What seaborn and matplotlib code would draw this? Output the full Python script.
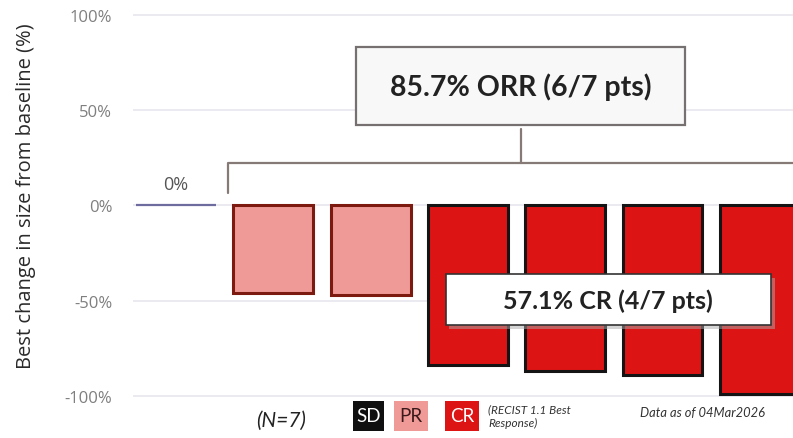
import numpy as np
import pandas as pd
import matplotlib
matplotlib.use('Agg')
import matplotlib.pyplot as plt
import seaborn as sns
from matplotlib.patches import Rectangle

patients = ["1", "2", "3", "4", "5", "6", "7"]
best_change = [0, -46, -47, -84, -87, -89, -99]
response = ["SD", "PR", "PR", "CR", "CR", "CR", "CR"]

fill_colors = {"SD": "#101010", "PR": "#f09a98", "CR": "#dc1414"}
edge_colors = {"SD": "#6e6c9e", "PR": "#7c1a10", "CR": "#141414"}
edge_widths = {"SD": 1.6, "PR": 2.2, "CR": 2.2}

yticks = [100, 50, 0, -50, -100]
ytick_labels = ["100%", "50%", "0%", "-50%", "-100%"]

orr_text = "85.7% ORR (6/7 pts)"
cr_text = "57.1% CR (4/7 pts)"
sd_label = "0%"
legend_items = ["SD", "PR", "CR"]

sns.set_theme(style="white")
plt.rcParams['font.family'] = ['Open Sans', 'DejaVu Sans']

df = pd.DataFrame({"patient": patients, "change": best_change, "resp": response})

fig = plt.figure(figsize=(7.93, 4.39), dpi=100)
ax = fig.add_axes([0.168, 0.0827, 0.832, 0.894])

sns.barplot(data=df, x="patient", y="change", hue="patient",
            palette=[fill_colors[r] for r in response], legend=False,
            width=0.82, saturation=1, ax=ax, zorder=3)

for patch, r in zip(ax.patches, response):
    patch.set_edgecolor(edge_colors[r])
    patch.set_linewidth(edge_widths[r])
    if r == "SD":
        patch.set_facecolor("none")

ax.set_xlim(-0.44, 6.34)
ax.set_ylim(-103, 103)
ax.set_yticks(yticks)
ax.set_yticklabels(ytick_labels, color="#7f7f7f", fontsize=12)
ax.set_xticks([])
ax.set_xlabel("")
ax.set_ylabel("Best change in size from baseline (%)", fontsize=14.5,
              color="#2a2a2a")
ax.yaxis.set_label_coords(-0.148, 0.527)
ax.tick_params(axis="y", length=0, pad=15)
for y in yticks:
    ax.axhline(y, color="#e4e4ec", lw=1.1, zorder=1)
for s in ax.spines.values():
    s.set_visible(False)

# SD label
ax.text(0, 6.5, sd_label, ha="center", va="bottom", fontsize=13,
        color="#555555")

# ORR bracket
bc = "#857a76"
ax.plot([0.53, 0.53, 6.5], [6.8, 22.5, 22.5], color=bc, lw=1.6,
        clip_on=False, zorder=4)
ax.plot([3.55, 3.55], [22.5, 40], color=bc, lw=1.6, zorder=4)
ax.add_patch(Rectangle((1.85, 42), 3.38, 41, facecolor="#f8f8f8",
                       edgecolor="#777070", lw=1.6, zorder=5))
ax.text(3.54, 62.5, orr_text, ha="center", va="center", fontsize=20.5,
        fontweight="bold", family="Lato", color="#222222", zorder=6)

# CR callout with a soft shadow
ax.add_patch(Rectangle((2.81, -64.7), 3.34, 26.8, facecolor="#aaaaaa",
                       edgecolor="none", alpha=0.5, zorder=6))
ax.add_patch(Rectangle((2.77, -62.7), 3.34, 26.8, facecolor="white",
                       edgecolor="#333333", lw=1.2, zorder=7))
ax.text(4.44, -49.5, cr_text, ha="center", va="center", fontsize=18,
        fontweight="bold", family="Lato", color="#222222", zorder=8)

# bottom legend row (figure coords)
fig.text(0.354, 0.041, "(N=7)", ha="center", va="center", fontsize=15,
         style="italic", color="#222222", family="Lato")
box_x = [0.445, 0.497, 0.561]
box_w = [0.039, 0.043, 0.043]
for x0, w, lab in zip(box_x, box_w, legend_items):
    fig.patches.append(Rectangle((x0, 0.017), w, 0.068, transform=fig.transFigure,
                                 facecolor=fill_colors[lab], edgecolor="none"))
    fig.text(x0 + w / 2, 0.051, lab, ha="center", va="center", fontsize=13.5,
             color="white" if lab != "PR" else "#3a1a1a", family="Lato")
fig.text(0.616, 0.051, "(RECIST 1.1 Best\nResponse)", ha="left", va="center",
         fontsize=8.5, style="italic", color="#333333", family="Lato",
         linespacing=1.3)
fig.text(0.807, 0.06, "Data as of 04Mar2026", ha="left", va="center",
         fontsize=9.3, style="italic", color="#333333", family="Lato")

fig.savefig("out.png", dpi=100)
